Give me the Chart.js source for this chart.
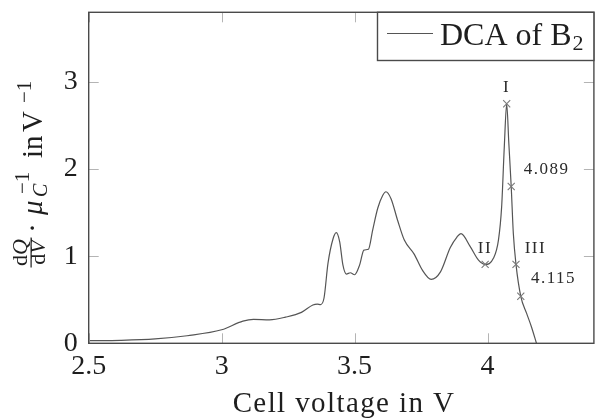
<!DOCTYPE html>
<html><head><meta charset="utf-8">
<script src="https://cdn.jsdelivr.net/npm/chart.js@4"></script>
<style>html,body{margin:0;padding:0;overflow:hidden;background:#fff}
#wrap{width:600px;height:418px;position:relative}</style></head>
<body><div id="wrap"><canvas id="c" width="600" height="418" style="width:600px;height:418px"></canvas></div>
<script>
// Cell voltage (V)
const voltage = [2.50,2.62,2.75,2.87,3.00,3.08,3.12,3.18,3.24,3.30,3.343,3.36,3.372,3.385,3.400,3.419,3.431,3.444,3.456,3.469,3.484,3.500,3.519,3.535,3.552,3.568,3.587,3.606,3.618,3.637,3.662,3.687,3.724,3.755,3.788,3.823,3.860,3.885,3.900,3.935,3.966,3.991,4.022,4.041,4.053,4.063,4.072,4.080,4.089,4.097,4.107,4.125,4.147,4.165,4.184];
// dQ/dV * mu_C^-1 (V^-1)
const dca = [0.030,0.034,0.050,0.087,0.155,0.255,0.275,0.270,0.300,0.355,0.440,0.450,0.445,0.520,0.920,1.200,1.270,1.165,0.900,0.795,0.810,0.787,0.900,1.070,1.080,1.300,1.550,1.700,1.740,1.660,1.410,1.185,1.024,0.840,0.734,0.820,1.100,1.220,1.260,1.110,0.955,0.906,0.975,1.185,1.566,2.255,2.750,2.300,1.800,1.260,0.906,0.540,0.344,0.190,0.000];
// marked points
const markerVoltage = [4.072,4.089,3.991,4.107,4.125];
const markerDca = [2.750,1.800,0.906,0.906,0.540];
// annotation labels and their data positions
const annotationText = ['I','4.089','II','III','4.115'];
const annotationX = [4.072,4.222,3.990,4.180,4.248];
const annotationY = [2.94,2.00,1.09,1.09,0.74];
// ticks
const xTicks = [2.5,3,3.5,4];
const yTicks = [0,1,2,3];
const seriesLabel = 'DCA of B';
const seriesSub = '2';

const SERIF = '"Liberation Serif", "Times New Roman", serif';
const lineColor = '#555555';

const framePlugin = {
  id: 'frame',
  afterDraw(chart) {
    const ctx = chart.ctx, a = chart.chartArea;
    const xs = chart.scales.x, ys = chart.scales.y;
    ctx.save();
    // inward ticks
    ctx.strokeStyle = '#b4b4b4';
    ctx.lineWidth = 1;
    const TL = 10;
    ctx.beginPath();
    xTicks.forEach(v => {
      const px = Math.round(xs.getPixelForValue(v)) + 0.5;
      ctx.moveTo(px, a.bottom); ctx.lineTo(px, a.bottom - TL);
      ctx.moveTo(px, a.top); ctx.lineTo(px, a.top + TL);
    });
    yTicks.forEach(v => {
      const py = Math.round(ys.getPixelForValue(v)) + 0.5;
      ctx.moveTo(a.left, py); ctx.lineTo(a.left + TL, py);
      ctx.moveTo(a.right, py); ctx.lineTo(a.right - TL, py);
    });
    ctx.stroke();
    // frame
    ctx.strokeStyle = '#4a4a4a';
    ctx.lineWidth = 1.4;
    ctx.strokeRect(a.left, a.top, a.right - a.left, a.bottom - a.top);

    // annotations
    ctx.fillStyle = '#2a2a2a';
    ctx.font = '17px ' + SERIF;
    ctx.letterSpacing = '1.5px';
    ctx.textAlign = 'center';
    ctx.textBaseline = 'middle';
    annotationText.forEach((t, i) => {
      ctx.fillText(t, xs.getPixelForValue(annotationX[i]), ys.getPixelForValue(annotationY[i]));
    });
    ctx.letterSpacing = '0px';

    // legend
    const lx = 377.5, ly = a.top, lr = a.right, lb = 60.5;
    ctx.fillStyle = '#fff';
    ctx.fillRect(lx, ly, lr - lx, lb - ly);
    ctx.strokeStyle = '#4a4a4a';
    ctx.lineWidth = 1.4;
    ctx.strokeRect(lx, ly, lr - lx, lb - ly);
    ctx.strokeStyle = lineColor;
    ctx.lineWidth = 1.2;
    ctx.beginPath(); ctx.moveTo(387, 33.5); ctx.lineTo(433, 33.5); ctx.stroke();
    ctx.fillStyle = '#1e1e1e';
    ctx.textAlign = 'left';
    ctx.textBaseline = 'alphabetic';
    ctx.font = '32px ' + SERIF;
    ctx.fillText(seriesLabel, 440, 45);
    const w = ctx.measureText(seriesLabel).width;
    ctx.font = '22px ' + SERIF;
    ctx.fillText(seriesSub, 440 + w + 1, 50);

    // x title
    ctx.font = '29px ' + SERIF;
    ctx.letterSpacing = '1.4px';
    ctx.textAlign = 'center';
    ctx.fillText('Cell voltage in V', 344, 412);
    ctx.letterSpacing = '0px';

    // y title (rotated)
    ctx.rotate(-Math.PI / 2);
    // local x = -py, local y = px
    ctx.textAlign = 'left';
    const P = py => -py;
    // fraction dQ / dV
    const FS = 22;
    ctx.font = FS + 'px ' + SERIF;
    const wd = ctx.measureText('d').width;
    ctx.font = 'italic ' + FS + 'px ' + SERIF;
    const wQ = ctx.measureText('Q').width, wV = ctx.measureText('V').width;
    const fracC = P(252.5);
    const numW = wd + wQ, denW = wd + wV;
    ctx.font = FS + 'px ' + SERIF;
    ctx.fillText('d', fracC - numW / 2, 27);
    ctx.fillText('d', fracC - denW / 2, 45);
    ctx.font = 'italic ' + FS + 'px ' + SERIF;
    ctx.fillText('Q', fracC - numW / 2 + wd, 27);
    ctx.fillText('V', fracC - denW / 2 + wd, 45);
    ctx.fillRect(fracC - 15, 30.5, 30, 1.2);
    // dot
    ctx.font = '29px ' + SERIF;
    ctx.textAlign = 'center';
    ctx.fillText('\u00B7', P(228), 42);
    ctx.textAlign = 'left';
    ctx.font = 'italic 29px ' + SERIF;
    ctx.fillText('\u03BC', P(215), 42);
    ctx.font = 'italic 20px ' + SERIF;
    ctx.fillText('C', P(197), 47);
    ctx.font = '21px ' + SERIF;
    ctx.fillText('\u22121', P(194), 29);
    ctx.font = '29px ' + SERIF;
    ctx.fillText('in', P(158), 42);
    ctx.fillText('V', P(132), 42);
    ctx.font = '21px ' + SERIF;
    ctx.fillText('\u22121', P(103), 31);
    ctx.restore();
  }
};

new Chart(document.getElementById('c'), {
  type: 'scatter',
  data: {
    datasets: [
      {
        label: seriesLabel + seriesSub,
        data: voltage.map((v, i) => ({x: v, y: dca[i]})),
        showLine: true,
        borderColor: lineColor,
        borderWidth: 1.2,
        pointRadius: 0,
        cubicInterpolationMode: 'monotone',
        order: 2
      },
      {
        label: 'marks',
        data: markerVoltage.map((v, i) => ({x: v, y: markerDca[i]})),
        showLine: false,
        pointStyle: 'crossRot',
        pointRadius: 5,
        borderColor: '#7a7a7a',
        borderWidth: 1.1,
        backgroundColor: '#7a7a7a',
        order: 1
      }
    ]
  },
  options: {
    responsive: false,
    animation: false,
    devicePixelRatio: 1,
    layout: {padding: {top: 12.3, right: 2.5, left: 0, bottom: 0}},
    plugins: {legend: {display: false}, tooltip: {enabled: false}},
    scales: {
      x: {
        type: 'linear', min: 2.5, max: 4.4,
        afterBuildTicks: s => { s.ticks = xTicks.map(v => ({value: v})); },
        afterFit: s => { s.height = 74.7; s.paddingLeft = 0; s.paddingRight = 0; },
        grid: {display: false, drawTicks: false},
        border: {display: false},
        ticks: {font: {family: SERIF, size: 28}, color: '#1e1e1e', padding: 7, maxRotation: 0, autoSkip: false, callback: v => String(v)}
      },
      y: {
        type: 'linear', min: 0, max: 3.8,
        afterBuildTicks: s => { s.ticks = yTicks.map(v => ({value: v})); },
        afterFit: s => { s.width = 88.7; s.paddingTop = 0; s.paddingBottom = 0; },
        grid: {display: false, drawTicks: false},
        border: {display: false},
        ticks: {font: {family: SERIF, size: 28}, color: '#1e1e1e', padding: 11, callback: v => String(v)}
      }
    }
  },
  plugins: [framePlugin]
});
</script></body></html>
